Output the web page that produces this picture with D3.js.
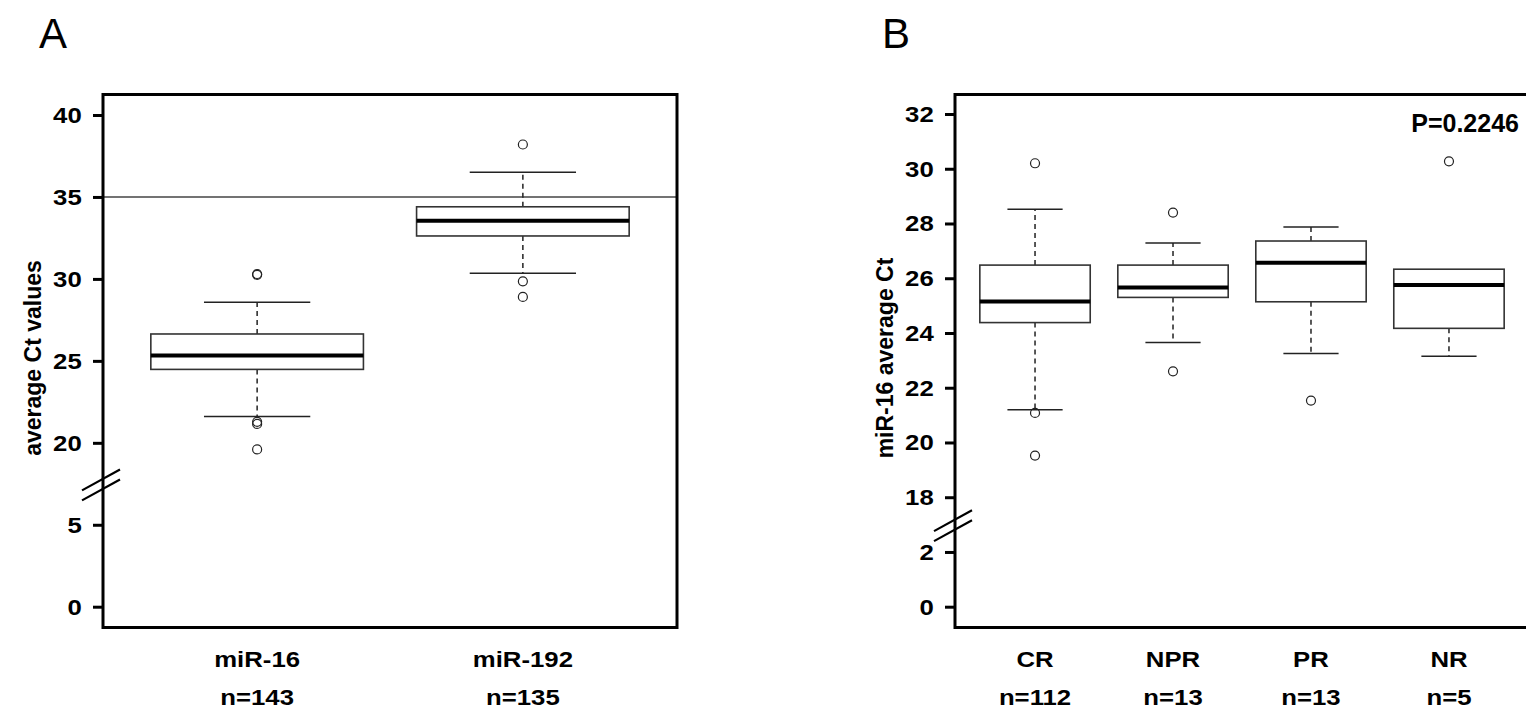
<!DOCTYPE html>
<html>
<head>
<meta charset="utf-8">
<script src="https://cdn.jsdelivr.net/npm/d3@7/dist/d3.min.js"></script>
<style>
  body { margin: 0; background: #fff; }
  text { font-family: "Liberation Sans", Arial, sans-serif; fill: #000; }
</style>
</head>
<body>
<script>
'use strict';

// panel A : miR-16 vs miR-192
var groupsA = ["miR-16", "miR-192"];
var countsA = ["n=143", "n=135"];
var loA  = [21.6, 30.35];
var q1A  = [24.48, 32.62];
var medA = [25.33, 33.55];
var q3A  = [26.64, 34.4];
var hiA  = [28.57, 36.5];
var outA = [[30.25, 30.3, 21.15, 21.28, 19.6], [38.2, 29.85, 28.9]];
var ticksA = [0, 5, 20, 25, 30, 35, 40];
var cutoffA = 35;

// panel B : miR-16 by response group
var groupsB = ["CR", "NPR", "PR", "NR"];
var countsB = ["n=112", "n=13", "n=13", "n=5"];
var loB  = [21.2, 23.65, 23.25, 23.15];
var q1B  = [24.38, 25.3, 25.14, 24.17];
var medB = [25.15, 25.66, 26.57, 25.75];
var q3B  = [26.48, 26.48, 27.36, 26.33];
var hiB  = [28.52, 27.29, 27.87, 26.33];
var outB = [[30.2, 21.08, 19.52], [28.4, 22.6], [21.53], [30.27]];
var ticksB = [0, 2, 18, 20, 22, 24, 26, 28, 30, 32];
var pvalB = "P=0.2246";

var svg = d3.select("body").append("svg")
  .attr("width", 1526)
  .attr("height", 713);

var frameTop = 94.5, frameBottom = 627.5;
var stretch = "scale(1.12,1)";

function drawPanel(p) {
  var n = p.groups.length;
  var x = d3.scaleLinear().domain([0.42, n + 0.58]).range([p.left, p.right]);
  // broken axis: the gap between the two segments collapses onto the break mark
  var y = d3.scaleLinear().domain(p.ydom).range(p.yrng);
  var unit = x(2) - x(1);
  var boxW = 0.8 * unit, capW = 0.4 * unit;

  var g = svg.append("g");

  if (p.cutoff != null) {
    g.append("line")
      .attr("x1", p.left).attr("x2", p.right)
      .attr("y1", y(p.cutoff)).attr("y2", y(p.cutoff))
      .attr("stroke", "#444").attr("stroke-width", 1.5);
  }

  var stats = p.groups.map(function(d, i) {
    return {name: d, i: i + 1, lo: p.lo[i], q1: p.q1[i], med: p.med[i], q3: p.q3[i], hi: p.hi[i], out: p.out[i]};
  });

  var box = g.selectAll("g.box").data(stats).enter().append("g").attr("class", "box");

  // whiskers
  box.filter(function(d) { return d.hi > d.q3; }).append("line")
    .attr("x1", function(d) { return x(d.i); }).attr("x2", function(d) { return x(d.i); })
    .attr("y1", function(d) { return y(d.q3); }).attr("y2", function(d) { return y(d.hi); })
    .attr("stroke", "#222").attr("stroke-width", 1.5).attr("stroke-dasharray", "5,4");
  box.filter(function(d) { return d.hi > d.q3; }).append("line")
    .attr("x1", function(d) { return x(d.i) - capW / 2; }).attr("x2", function(d) { return x(d.i) + capW / 2; })
    .attr("y1", function(d) { return y(d.hi); }).attr("y2", function(d) { return y(d.hi); })
    .attr("stroke", "#222").attr("stroke-width", 1.5);
  box.append("line")
    .attr("x1", function(d) { return x(d.i); }).attr("x2", function(d) { return x(d.i); })
    .attr("y1", function(d) { return y(d.q1); }).attr("y2", function(d) { return y(d.lo); })
    .attr("stroke", "#222").attr("stroke-width", 1.5).attr("stroke-dasharray", "5,4");
  box.append("line")
    .attr("x1", function(d) { return x(d.i) - capW / 2; }).attr("x2", function(d) { return x(d.i) + capW / 2; })
    .attr("y1", function(d) { return y(d.lo); }).attr("y2", function(d) { return y(d.lo); })
    .attr("stroke", "#222").attr("stroke-width", 1.5);

  box.append("rect")
    .attr("x", function(d) { return x(d.i) - boxW / 2; })
    .attr("y", function(d) { return y(d.q3); })
    .attr("width", boxW)
    .attr("height", function(d) { return y(d.q1) - y(d.q3); })
    .attr("fill", "#fff").attr("stroke", "#333").attr("stroke-width", 1.6);

  box.append("line")
    .attr("x1", function(d) { return x(d.i) - boxW / 2; }).attr("x2", function(d) { return x(d.i) + boxW / 2; })
    .attr("y1", function(d) { return y(d.med); }).attr("y2", function(d) { return y(d.med); })
    .attr("stroke", "#000").attr("stroke-width", 4);

  box.selectAll("circle")
    .data(function(d) { return d.out.map(function(v) { return {i: d.i, v: v}; }); })
    .enter().append("circle")
    .attr("cx", function(d) { return x(d.i); })
    .attr("cy", function(d) { return y(d.v); })
    .attr("r", 4.5)
    .attr("fill", "none").attr("stroke", "#222").attr("stroke-width", 1.2);

  // frame
  g.append("rect")
    .attr("x", p.left).attr("y", frameTop)
    .attr("width", p.right - p.left).attr("height", frameBottom - frameTop)
    .attr("fill", "none").attr("stroke", "#000").attr("stroke-width", 3);

  // y axis
  var ax = g.append("g")
    .attr("transform", "translate(" + p.left + ",0)")
    .call(d3.axisLeft(y).tickValues(p.ticks).tickSize(10).tickPadding(9).tickFormat(d3.format("d")));
  ax.select(".domain").remove();
  ax.selectAll(".tick line").attr("stroke", "#000").attr("stroke-width", 3);
  ax.selectAll(".tick text")
    .attr("transform", stretch)
    .attr("font-size", 23).attr("font-weight", "bold")
    .attr("font-family", "'Liberation Sans', Arial, sans-serif").attr("fill", "#000");

  // axis break marks
  var yb = y(p.breakAt);
  [-5, 5].forEach(function(off) {
    g.append("line")
      .attr("x1", p.left - 21).attr("y1", yb + off + 21 * 0.55)
      .attr("x2", p.left + 17).attr("y2", yb + off - 17 * 0.55)
      .attr("stroke", "#000").attr("stroke-width", 2.2);
  });

  // y title
  g.append("text")
    .attr("transform", "translate(" + p.titleX + "," + ((frameTop + frameBottom) / 2 - 3) + ") rotate(-90)")
    .attr("text-anchor", "middle").attr("dy", "0.35em")
    .attr("font-size", 23).attr("font-weight", "bold")
    .text(p.title);

  // category labels
  g.selectAll("text.cat").data(stats).enter().append("text").attr("class", "cat")
    .attr("transform", function(d) { return "translate(" + x(d.i) + ",667) " + stretch; })
    .attr("text-anchor", "middle").attr("font-size", 23).attr("font-weight", "bold")
    .text(function(d) { return d.name; });
  g.selectAll("text.cnt").data(p.counts).enter().append("text").attr("class", "cnt")
    .attr("transform", function(d, i) { return "translate(" + x(i + 1) + ",705) " + stretch; })
    .attr("text-anchor", "middle").attr("font-size", 23).attr("font-weight", "bold")
    .text(function(d) { return d; });

  svg.append("text")
    .attr("x", p.letterX).attr("y", 48)
    .attr("font-size", 42)
    .text(p.letter);

  return {x: x, y: y};
}

drawPanel({
  groups: groupsA, counts: countsA,
  lo: loA, q1: q1A, med: medA, q3: q3A, hi: hiA, out: outA,
  ticks: ticksA, cutoff: cutoffA,
  ydom: [0, 7.5, 17.5, 40], yrng: [606.7, 483.8, 483.8, 115],
  breakAt: 7.5,
  left: 103, right: 677,
  title: "average Ct values", titleX: 33,
  letter: "A", letterX: 39
});

drawPanel({
  groups: groupsB, counts: countsB,
  lo: loB, q1: q1B, med: medB, q3: q3B, hi: hiB, out: outB,
  ticks: ticksB, cutoff: null,
  ydom: [0, 3, 17, 32], yrng: [606.7, 524.6, 524.6, 114],
  breakAt: 3,
  left: 955, right: 1529,
  title: "miR-16 average Ct", titleX: 885,
  letter: "B", letterX: 882
});

svg.append("text")
  .attr("x", 1519).attr("y", 132)
  .attr("text-anchor", "end")
  .attr("font-size", 25).attr("font-weight", "bold")
  .text(pvalB);
</script>
</body>
</html>
